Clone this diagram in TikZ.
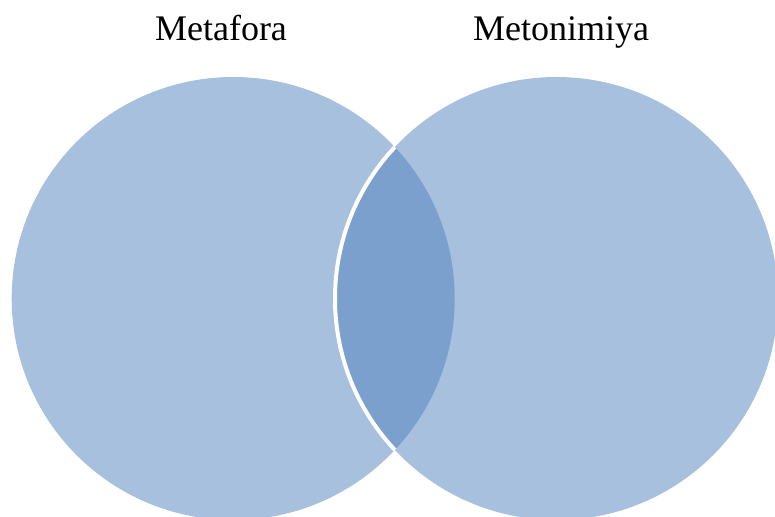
\documentclass[tikz,border=0pt]{standalone}
\usepackage{fontspec}
\setmainfont{Liberation Serif}
\usepackage{xcolor}
\definecolor{setblue}{HTML}{A7C0DE}
\definecolor{capblue}{HTML}{7BA0CD}

\begin{document}
\begin{tikzpicture}[x=0.75pt,y=-0.75pt,
		setlabel/.style={font=\fontsize{27}{31}\selectfont, anchor=base, inner sep=0pt}]
		\def \r {166.125pt}
		\def \xl {233.2}
		\def \xr {556.5}
		\def \yc {298.5}

		\useasboundingbox (0,0) rectangle (775,517);

		\fill[setblue] (\xl,\yc) circle[radius=\r];
		\fill[setblue] (\xr,\yc) circle[radius=\r];
		\begin{scope}
			\clip (\xl,\yc) circle[radius=\r];
			\fill[capblue] (\xr,\yc) circle[radius=\r];
			\draw[white, line width=3pt] (\xr,\yc) circle[radius=\r];
		\end{scope}

		\node[setlabel] (metafora) at (221,41) {Metafora};
		\node[setlabel] (metonimiya) at (561,41) {Metonimiya};
	\end{tikzpicture}
\end{document}
